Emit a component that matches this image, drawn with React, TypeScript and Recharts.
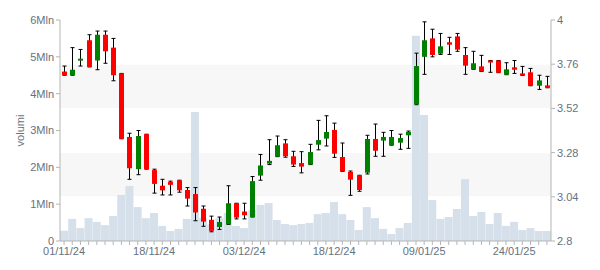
import { ComposedChart, Bar, XAxis, YAxis, CartesianGrid } from 'recharts';

// trading days, 01/11/24 -> 30/01/25
const dates = [
  '01/11/24', '04/11/24', '05/11/24', '06/11/24', '07/11/24', '08/11/24',
  '11/11/24', '12/11/24', '13/11/24', '14/11/24', '15/11/24',
  '18/11/24', '19/11/24', '20/11/24', '21/11/24', '22/11/24',
  '25/11/24', '26/11/24', '27/11/24', '28/11/24', '29/11/24',
  '02/12/24', '03/12/24', '04/12/24', '05/12/24', '06/12/24',
  '09/12/24', '10/12/24', '11/12/24', '12/12/24', '13/12/24',
  '16/12/24', '17/12/24', '18/12/24', '19/12/24', '20/12/24',
  '23/12/24', '27/12/24', '30/12/24', '02/01/25', '03/01/25',
  '06/01/25', '07/01/25', '08/01/25', '09/01/25', '10/01/25',
  '13/01/25', '14/01/25', '15/01/25', '16/01/25', '17/01/25',
  '20/01/25', '21/01/25', '22/01/25', '23/01/25', '24/01/25',
  '27/01/25', '28/01/25', '29/01/25', '30/01/25',
];

const opens = [
  3.72, 3.7, 3.78, 3.89, 3.78, 3.92, 3.85, 3.71, 3.365, 3.19,
  3.38, 3.185, 3.1, 3.12, 3.13, 3.077, 3.055, 2.975, 2.915, 2.876,
  2.89, 3.005, 2.96, 2.93, 3.155, 3.22, 3.258, 3.33, 3.26, 3.223,
  3.215, 3.323, 3.356, 3.403, 3.256, 3.175, 3.157, 3.171, 3.354, 3.345,
  3.32, 3.334, 3.374, 3.542, 3.8, 3.9, 3.817, 3.879, 3.911, 3.81,
  3.732, 3.748, 3.78, 3.78, 3.703, 3.743, 3.71, 3.716, 3.643, 3.645,
];
const highs = [
  3.75, 3.85, 3.84, 3.92, 3.94, 3.94, 3.9, 3.71, 3.385, 3.4,
  3.38, 3.19, 3.135, 3.125, 3.13, 3.09, 3.09, 2.99, 2.935, 2.93,
  3.1, 3.005, 3.005, 3.15, 3.27, 3.35, 3.37, 3.35, 3.287, 3.285,
  3.325, 3.455, 3.48, 3.44, 3.332, 3.18, 3.157, 3.374, 3.435, 3.39,
  3.4, 3.38, 3.397, 3.82, 3.99, 3.95, 3.927, 3.906, 3.927, 3.85,
  3.83, 3.808, 3.78, 3.78, 3.768, 3.78, 3.748, 3.737, 3.7, 3.694,
];
const lows = [
  3.7, 3.7, 3.75, 3.745, 3.73, 3.765, 3.67, 3.355, 3.135, 3.16,
  3.19, 3.06, 3.05, 3.05, 3.065, 2.99, 2.91, 2.88, 2.85, 2.863,
  2.89, 2.92, 2.92, 2.93, 3.13, 3.215, 3.258, 3.255, 3.205, 3.17,
  3.215, 3.295, 3.316, 3.254, 3.178, 3.048, 3.07, 3.164, 3.26, 3.26,
  3.32, 3.298, 3.303, 3.54, 3.705, 3.8, 3.813, 3.813, 3.83, 3.705,
  3.732, 3.72, 3.716, 3.714, 3.703, 3.71, 3.699, 3.643, 3.623, 3.632,
];
const closes = [
  3.7, 3.73, 3.79, 3.745, 3.92, 3.83, 3.7, 3.355, 3.195, 3.37,
  3.19, 3.11, 3.075, 3.105, 3.075, 3.03, 2.955, 2.905, 2.855, 2.903,
  3.005, 2.927, 2.94, 3.125, 3.21, 3.235, 3.32, 3.26, 3.215, 3.204,
  3.283, 3.348, 3.392, 3.274, 3.178, 3.133, 3.077, 3.354, 3.29, 3.365,
  3.365, 3.359, 3.392, 3.75, 3.89, 3.81, 3.857, 3.866, 3.839, 3.752,
  3.765, 3.72, 3.772, 3.714, 3.732, 3.73, 3.699, 3.643, 3.672, 3.632,
];
// volume in millions
const volumes = [
  0.28, 0.6, 0.35, 0.62, 0.52, 0.43, 0.68, 1.25, 1.49, 0.92,
  0.62, 0.76, 0.41, 0.27, 0.33, 0.6, 3.5, 0.62, 0.45, 0.62,
  0.76, 0.41, 0.35, 0.84, 0.98, 1.03, 0.57, 0.46, 0.43, 0.46,
  0.49, 0.73, 0.76, 1.06, 0.73, 0.57, 0.3, 0.92, 0.62, 0.33,
  0.19, 0.35, 0.49, 5.57, 3.42, 1.11, 0.6, 0.65, 0.87, 1.68,
  0.68, 0.79, 0.46, 0.76, 0.41, 0.52, 0.3, 0.35, 0.27, 0.27,
];

const volumeTicks = [0, 1, 2, 3, 4, 5, 6];
const priceTicks = [2.8, 3.04, 3.28, 3.52, 3.76, 4];
const labelEvery = 11;

const data = dates.map((date, i) => ({
  date,
  open: opens[i],
  high: highs[i],
  low: lows[i],
  close: closes[i],
  volume: volumes[i],
}));

const font = '"Liberation Sans", Arial, sans-serif';
const textColor = '#66717e';
const axisColor = '#b5b5b5';

function Candle(props: any) {
  const { x, y, width, height, payload } = props;
  const top = Math.min(y, y + height);
  const bottom = Math.max(y, y + height);
  const { open, high, low, close } = payload;
  const k = (bottom - top) / (high - low || 1);
  const py = (v: number) => top + (high - v) * k;
  const cx = Math.round(x + width / 2) + 0.5;
  const up = close >= open;
  const bTop = py(Math.max(open, close));
  const bh = Math.max(py(Math.min(open, close)) - bTop, 2);
  return (
    <g>
      <line x1={cx} x2={cx} y1={top} y2={bottom} stroke="#000" />
      <line x1={cx - 2} x2={cx + 2} y1={top} y2={top} stroke="#000" />
      <line x1={cx - 2} x2={cx + 2} y1={bottom} y2={bottom} stroke="#000" />
      <rect x={cx - 2.5} y={bTop} width={5} height={bh} fill={up ? '#008000' : '#ff0000'} />
    </g>
  );
}

function DateTick(props: any) {
  const { x, y, payload, index } = props;
  if (index % labelEvery !== 0) return <g />;
  return (
    <text x={x} y={y} dy="0.71em" textAnchor="middle" fill={textColor} fontSize={11} fontFamily={font}>
      {payload.value}
    </text>
  );
}

export default function App() {
  return (
    <div style={{ position: 'absolute', left: 0, top: 0, fontFamily: font }}>
      <ComposedChart
        width={600}
        height={270}
        data={data}
        margin={{ top: 20, right: 0, bottom: 0, left: 0 }}
        barCategoryGap={0}
        barGap={0}
      >
        <CartesianGrid
          xAxisId="main"
          yAxisId="price"
          vertical={false}
          stroke="#ffffff"
          horizontalFill={['transparent', '#f7f7f7']}
        />
        <XAxis
          xAxisId="main"
          dataKey="date"
          interval={0}
          height={29}
          tickSize={4}
          tick={<DateTick />}
          axisLine={{ stroke: axisColor }}
          tickLine={{ stroke: axisColor }}
        />
        <XAxis xAxisId="vol" dataKey="date" hide />
        <YAxis
          yAxisId="vol"
          width={60}
          domain={[0, 6]}
          ticks={volumeTicks}
          tickSize={4}
          tickFormatter={(v: number) => (v === 0 ? '0' : `${v}Mln`)}
          tick={{ fontSize: 11, fill: textColor, fontFamily: font }}
          axisLine={{ stroke: axisColor }}
          tickLine={{ stroke: axisColor }}
          label={{ value: 'volumi', angle: -90, position: 'center', dx: -10, fontSize: 11, fill: textColor }}
        />
        <YAxis
          yAxisId="price"
          orientation="right"
          width={49}
          domain={[2.8, 4]}
          ticks={priceTicks}
          tickSize={4}
          tickFormatter={(v: number) => String(+v.toFixed(2))}
          tick={{ fontSize: 11, fill: textColor, fontFamily: font }}
          axisLine={{ stroke: axisColor }}
          tickLine={{ stroke: axisColor }}
        />
        <Bar xAxisId="vol" yAxisId="vol" dataKey="volume" fill="#d6e0ea" isAnimationActive={false} />
        <Bar
          xAxisId="main"
          yAxisId="price"
          dataKey={(d: any) => [d.low, d.high]}
          shape={<Candle />}
          isAnimationActive={false}
        />
      </ComposedChart>
    </div>
  );
}
